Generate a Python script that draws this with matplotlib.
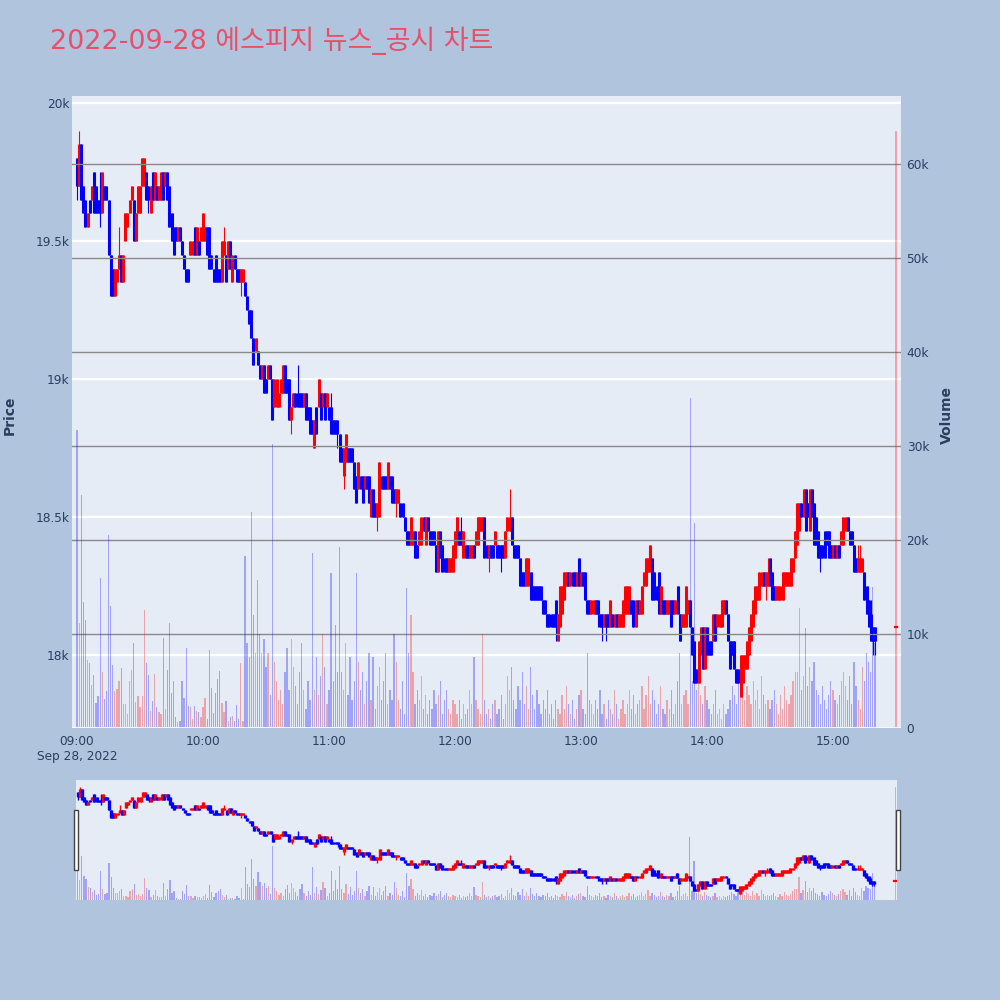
import matplotlib
matplotlib.use("Agg")
import matplotlib.pyplot as plt
from matplotlib.patches import Rectangle

plt.rcParams['font.family'] = ['DejaVu Sans', 'Noto Sans CJK KR']

TITLE = "2022-09-28 에스피지 뉴스_공시 차트"

# minutes after 09:00 (regular session 09:00-15:20, closing auction at 15:30)
minutes = list(range(381)) + [390]

opens = [
    19800, 19700, 19850, 19700, 19650, 19550, 19650, 19650, 19750, 19700,
    19650, 19650, 19600, 19700, 19700, 19650, 19450, 19400, 19300, 19350,
    19400, 19450, 19350, 19500, 19550, 19600, 19650, 19650, 19500, 19600,
    19600, 19700, 19700, 19750, 19700, 19600, 19750, 19650, 19700, 19650,
    19650, 19750, 19700, 19750, 19700, 19600, 19550, 19550, 19500, 19550,
    19500, 19450, 19400, 19400, 19450, 19450, 19550, 19450, 19500, 19500,
    19500, 19500, 19550, 19550, 19450, 19400, 19450, 19400, 19400, 19350,
    19450, 19450, 19400, 19500, 19350, 19450, 19400, 19400, 19350, 19350,
    19350, 19300, 19250, 19250, 19150, 19100, 19100, 19050, 19000, 19050,
    19000, 19000, 19050, 19000, 18900, 18900, 18900, 18950, 18950, 19050,
    19000, 19000, 18850, 18900, 18950, 18950, 18950, 18950, 18900, 18950,
    18900, 18900, 18850, 18750, 18900, 18900, 18950, 18900, 18950, 18900,
    18900, 18900, 18850, 18850, 18850, 18800, 18750, 18650, 18700, 18750,
    18750, 18750, 18700, 18650, 18600, 18650, 18650, 18600, 18650, 18650,
    18500, 18600, 18550, 18500, 18500, 18650, 18650, 18650, 18600, 18650,
    18650, 18600, 18550, 18550, 18550, 18550, 18500, 18450, 18450, 18400,
    18400, 18450, 18400, 18400, 18400, 18500, 18400, 18500, 18450, 18450,
    18450, 18400, 18300, 18450, 18400, 18350, 18350, 18300, 18300, 18300,
    18350, 18400, 18450, 18450, 18350, 18400, 18400, 18350, 18350, 18400,
    18400, 18400, 18450, 18450, 18500, 18400, 18350, 18400, 18400, 18400,
    18400, 18400, 18400, 18400, 18350, 18450, 18450, 18500, 18400, 18400,
    18400, 18350, 18300, 18300, 18250, 18250, 18300, 18250, 18250, 18250,
    18250, 18250, 18200, 18200, 18150, 18150, 18150, 18150, 18200, 18050,
    18100, 18150, 18200, 18250, 18300, 18250, 18300, 18300, 18250, 18350,
    18250, 18300, 18300, 18200, 18200, 18150, 18150, 18200, 18200, 18150,
    18150, 18100, 18150, 18150, 18100, 18150, 18100, 18150, 18100, 18100,
    18100, 18150, 18150, 18150, 18200, 18200, 18100, 18200, 18150, 18150,
    18250, 18250, 18300, 18300, 18350, 18300, 18250, 18300, 18150, 18200,
    18200, 18150, 18150, 18200, 18200, 18150, 18250, 18150, 18100, 18100,
    18100, 18150, 18200, 18100, 18050, 17950, 17900, 18000, 18100, 17950,
    18100, 18050, 18050, 18050, 18150, 18100, 18100, 18100, 18150, 18200,
    18150, 18050, 18050, 18050, 17950, 17950, 17850, 17900, 17950, 17950,
    18000, 18050, 18100, 18150, 18200, 18200, 18250, 18300, 18250, 18250,
    18350, 18300, 18250, 18200, 18200, 18200, 18200, 18250, 18250, 18250,
    18250, 18300, 18350, 18400, 18450, 18550, 18500, 18600, 18550, 18450,
    18600, 18550, 18500, 18450, 18400, 18400, 18450, 18450, 18450, 18400,
    18350, 18400, 18350, 18400, 18400, 18400, 18450, 18500, 18450, 18450,
    18400, 18350, 18300, 18300, 18300, 18300, 18250, 18200, 18150, 18100,
    18100,
    18100,
]

closes = [
    19700, 19850, 19650, 19600, 19550, 19600, 19600, 19700, 19600, 19600,
    19600, 19600, 19750, 19650, 19650, 19450, 19300, 19300, 19400, 19400,
    19450, 19350, 19450, 19600, 19600, 19650, 19700, 19500, 19600, 19700,
    19700, 19800, 19800, 19650, 19650, 19700, 19650, 19750, 19650, 19700,
    19750, 19650, 19750, 19650, 19550, 19500, 19450, 19500, 19550, 19500,
    19450, 19400, 19350, 19350, 19500, 19500, 19450, 19550, 19450, 19550,
    19600, 19550, 19450, 19400, 19400, 19350, 19350, 19350, 19350, 19500,
    19500, 19350, 19500, 19400, 19450, 19400, 19350, 19350, 19400, 19400,
    19300, 19250, 19200, 19150, 19050, 19150, 19050, 19000, 19050, 18950,
    18950, 19050, 19000, 18850, 19000, 19000, 18950, 19000, 19050, 18950,
    18950, 18850, 18900, 18950, 18900, 18900, 18900, 18900, 18950, 18850,
    18850, 18800, 18800, 18850, 18800, 19000, 18850, 18950, 18850, 18950,
    18850, 18800, 18800, 18800, 18800, 18700, 18700, 18750, 18800, 18700,
    18700, 18700, 18600, 18550, 18700, 18600, 18550, 18650, 18600, 18550,
    18600, 18500, 18500, 18550, 18700, 18600, 18600, 18600, 18700, 18600,
    18550, 18550, 18600, 18600, 18500, 18500, 18450, 18400, 18400, 18500,
    18450, 18350, 18350, 18450, 18500, 18450, 18500, 18450, 18400, 18400,
    18400, 18300, 18450, 18350, 18300, 18300, 18300, 18350, 18350, 18400,
    18450, 18500, 18400, 18400, 18450, 18350, 18350, 18400, 18400, 18350,
    18450, 18500, 18500, 18500, 18350, 18350, 18400, 18350, 18350, 18450,
    18350, 18350, 18350, 18350, 18450, 18500, 18500, 18400, 18350, 18350,
    18350, 18250, 18250, 18250, 18350, 18350, 18200, 18200, 18200, 18200,
    18200, 18200, 18150, 18150, 18100, 18100, 18100, 18100, 18100, 18150,
    18250, 18250, 18300, 18300, 18250, 18300, 18250, 18250, 18300, 18250,
    18300, 18250, 18200, 18150, 18150, 18200, 18200, 18150, 18150, 18100,
    18100, 18150, 18100, 18100, 18200, 18100, 18150, 18100, 18150, 18150,
    18200, 18250, 18250, 18250, 18150, 18100, 18200, 18150, 18200, 18250,
    18300, 18350, 18350, 18400, 18200, 18200, 18200, 18150, 18250, 18150,
    18150, 18200, 18200, 18100, 18150, 18200, 18150, 18050, 18150, 18150,
    18250, 18200, 18100, 18000, 17900, 17900, 18050, 18100, 17950, 18100,
    18000, 18000, 18000, 18150, 18050, 18150, 18150, 18200, 18200, 18150,
    18050, 17950, 18000, 17950, 17900, 17900, 18000, 18000, 18000, 18050,
    18100, 18150, 18200, 18250, 18250, 18300, 18300, 18250, 18300, 18300,
    18250, 18200, 18200, 18250, 18250, 18250, 18300, 18300, 18300, 18300,
    18350, 18350, 18450, 18550, 18550, 18500, 18600, 18450, 18500, 18600,
    18500, 18400, 18400, 18350, 18350, 18350, 18350, 18400, 18350, 18350,
    18400, 18350, 18400, 18350, 18450, 18500, 18500, 18450, 18400, 18400,
    18300, 18300, 18350, 18350, 18350, 18200, 18150, 18100, 18050, 18050,
    18050,
    18100,
]

# shadows that reach beyond the body (minute -> price)
wick_hi = {1: 19900, 11: 19750, 20: 19550, 70: 19550, 105: 19050, 121: 18950,
           183: 18500, 206: 18600, 329: 18350, 372: 18400, 373: 18400, 378: 18200}
wick_lo = {0: 19650, 11: 19550, 34: 19600, 78: 19300, 102: 18800, 124: 18750,
           127: 18600, 143: 18450, 152: 18500, 196: 18300, 202: 18300, 228: 18050,
           248: 18100, 250: 18050, 252: 18050, 328: 18200, 354: 18300, 379: 18000,
           380: 18000}

# traded volume, thousands of shares
volume_k = [
    31.7, 11.2, 24.8, 13.4, 11.5, 7.2, 6.9, 4.6, 5.6, 2.7,
    3.4, 16.0, 6.0, 3.1, 3.9, 20.5, 13.0, 6.7, 3.9, 4.1,
    5.0, 6.4, 2.5, 2.5, 1.5, 5.0, 6.2, 9.0, 2.8, 3.4,
    2.2, 3.4, 12.5, 6.9, 5.6, 1.8, 2.9, 5.7, 2.2, 1.7,
    1.5, 9.6, 2.0, 6.2, 11.2, 3.7, 5.0, 1.2, 0.6, 0.7,
    5.0, 3.2, 8.5, 2.3, 2.2, 1.0, 2.3, 1.8, 1.7, 1.2,
    2.2, 3.2, 1.0, 8.3, 4.3, 1.6, 3.7, 5.2, 6.1, 2.7,
    1.7, 2.9, 0.7, 1.2, 1.3, 0.7, 2.4, 1.0, 6.9, 0.7,
    18.3, 9.0, 7.5, 23.0, 12.0, 8.0, 15.7, 10.0, 8.0, 9.5,
    6.5, 8.0, 3.5, 30.2, 7.0, 5.0, 3.0, 4.0, 2.5, 6.0,
    8.5, 4.0, 9.5, 6.5, 4.5, 2.5, 6.0, 9.0, 4.0, 2.0,
    5.0, 3.0, 18.6, 4.0, 7.5, 3.5, 5.5, 10.0, 6.5, 2.5,
    4.0, 16.5, 5.0, 11.0, 6.0, 19.3, 6.0, 4.0, 9.0, 3.5,
    7.5, 3.0, 5.0, 16.5, 7.0, 4.0, 6.0, 2.5, 5.0, 8.0,
    3.0, 7.5, 2.0, 4.5, 6.5, 3.0, 5.0, 8.0, 2.5, 4.0,
    3.0, 10.0, 7.0, 3.0, 2.0, 5.0, 1.5, 14.9, 8.0, 12.0,
    6.0, 2.5, 4.0, 3.0, 5.5, 2.0, 3.5, 1.5, 3.0, 2.0,
    4.0, 2.5, 3.5, 5.0, 1.5, 3.0, 4.0, 2.0, 1.5, 3.0,
    2.5, 1.5, 3.0, 1.0, 2.5, 1.5, 2.0, 4.0, 2.5, 7.5,
    3.0, 2.0, 1.5, 10.0, 3.0, 1.5, 2.0, 1.0, 2.5, 3.0,
    1.5, 2.0, 3.5, 1.0, 2.5, 5.5, 4.0, 6.5, 3.0, 2.0,
    4.5, 3.0, 6.0, 2.5, 4.5, 2.0, 6.5, 3.5, 2.0, 4.0,
    2.5, 1.5, 3.0, 2.0, 4.0, 1.5, 2.5, 1.0, 3.0, 2.0,
    1.5, 3.5, 2.0, 4.5, 2.5, 1.5, 3.0, 1.0, 2.0, 3.5,
    4.0, 2.0, 1.5, 8.0, 3.0, 2.5, 1.5, 3.0, 2.0, 4.0,
    1.5, 2.5, 1.0, 3.0, 2.0, 1.5, 4.0, 2.5, 1.0, 2.0,
    3.0, 1.5, 2.5, 4.0, 2.0, 3.5, 1.5, 2.5, 3.0, 4.5,
    2.0, 3.5, 5.5, 2.5, 4.0, 3.0, 1.5, 2.5, 4.5, 2.0,
    1.5, 3.0, 2.0, 4.0, 1.5, 2.5, 5.0, 8.0, 2.5, 3.5,
    4.0, 2.5, 35.1, 5.0, 21.8, 4.0, 6.0, 3.5, 2.5, 4.5,
    3.0, 2.0, 1.5, 2.5, 4.0, 1.5, 2.0, 1.0, 2.5, 1.5,
    2.0, 3.0, 4.5, 3.5, 2.5, 6.0, 4.0, 5.5, 3.0, 4.5,
    3.5, 2.5, 5.0, 3.0, 4.0, 2.0, 5.5, 3.5, 2.5, 3.0,
    2.0, 3.0, 4.0, 2.5, 1.5, 3.5, 2.0, 4.5, 3.0, 2.5,
    3.5, 5.0, 6.0, 6.0, 12.8, 4.0, 5.5, 10.6, 4.5, 6.5,
    5.0, 7.0, 4.0, 3.5, 2.5, 4.5, 3.0, 2.0, 3.5, 5.0,
    4.0, 3.0, 2.5, 3.5, 5.0, 6.0, 4.5, 3.0, 5.5, 2.5,
    7.0, 4.5, 3.0, 2.0, 6.5, 5.0, 8.0, 7.0, 6.0, 15.0,
    9.0,
    63.5,
]

price_ticks = [18000, 18500, 19000, 19500, 20000]
price_labels = ["18k", "18.5k", "19k", "19.5k", "20k"]
vol_ticks = [0, 10000, 20000, 30000, 40000, 50000, 60000]
vol_labels = ["0", "10k", "20k", "30k", "40k", "50k", "60k"]
time_ticks = [0, 60, 120, 180, 240, 300, 360]
time_labels = ["09:00\nSep 28, 2022", "10:00", "11:00", "12:00", "13:00", "14:00", "15:00"]

UP, DOWN = "#ff0000", "#0000ff"
BG, PLOT_BG, TXT = "#b0c4de", "#e5ecf6", "#2a3f5f"
PRICE_LIM = (17736, 20025)
VOL_LIM = (0, 67234)

colors = [UP if c >= o else DOWN for o, c in zip(opens, closes)]
highs = [max(o, c, wick_hi.get(m, 0)) for m, o, c in zip(minutes, opens, closes)]
lows = [min(o, c, wick_lo.get(m, 1e9)) for m, o, c in zip(minutes, opens, closes)]
body_lo = [min(o, c) for o, c in zip(opens, closes)]
body_hi = [max(o, c) for o, c in zip(opens, closes)]
volumes = [v * 1000 for v in volume_k]


def draw_candles(ax, body_lw, wick_lw):
    ax.vlines(minutes, lows, highs, colors=colors, linewidth=wick_lw, zorder=3)
    ax.vlines(minutes, body_lo, body_hi, colors=colors, linewidth=body_lw, zorder=3)
    flat = [(m, o, col) for m, o, c, col in zip(minutes, opens, closes, colors) if o == c]
    for m, o, col in flat:
        ax.plot([m - 0.6, m + 0.6], [o, o], color=col, linewidth=1.6, zorder=3)


fig = plt.figure(figsize=(10, 10), dpi=100, facecolor=BG)

# ── main panel ──────────────────────────────────────────────────────────────
ax = fig.add_axes([0.072, 0.272, 0.829, 0.632])
ax.set_facecolor(PLOT_BG)
draw_candles(ax, 2.2, 0.8)
ax.set_xlim(-2.4, 392.4)
ax.set_ylim(*PRICE_LIM)
ax.set_yticks(price_ticks)
ax.set_yticklabels(price_labels)
ax.set_xticks(time_ticks)
ax.set_xticklabels(time_labels)
ax.yaxis.grid(True, color="white", linewidth=1.6)
ax.set_axisbelow(True)
ax.tick_params(axis="y", length=0, pad=2, labelsize=8.7, labelcolor=TXT)
ax.tick_params(axis="x", length=0, pad=5, labelsize=8.7, labelcolor=TXT)
for s in ax.spines.values():
    s.set_visible(False)

ax2 = ax.twinx()
vol_colors = [UP if c >= o else DOWN for o, c in zip(opens, closes)]
ax2.bar(minutes, volumes, width=0.6, color=vol_colors, alpha=0.3, linewidth=0, zorder=2)
ax2.set_ylim(*VOL_LIM)
ax2.set_yticks(vol_ticks)
ax2.set_yticklabels(vol_labels)
ax2.yaxis.grid(True, color="#8a8a8a", linewidth=1.0)
ax2.axhline(0, color="white", linewidth=2)
ax2.tick_params(axis="y", length=0, pad=4, labelsize=8.7, labelcolor=TXT)
for s in ax2.spines.values():
    s.set_visible(False)

fig.text(0.010, 0.585, "Price", rotation=90, fontsize=10, fontweight="bold",
         color=TXT, ha="center", va="center")
fig.text(0.947, 0.585, "Volume", rotation=90, fontsize=10, fontweight="bold",
         color=TXT, ha="center", va="center")
fig.text(0.05, 0.959, TITLE, fontsize=19.4, color="#e8506a", ha="left", va="center")

# ── range slider ────────────────────────────────────────────────────────────
sax = fig.add_axes([0.076, 0.100, 0.821, 0.120])
sax.set_facecolor(PLOT_BG)
draw_candles(sax, 2.4, 1.0)
sax.set_xlim(-0.8, 390.8)
sax.set_ylim(*PRICE_LIM)
sax.set_xticks([])
sax.set_yticks([])
for s in sax.spines.values():
    s.set_visible(False)
sax2 = sax.twinx()
sax2.bar(minutes, volumes, width=0.6, color=vol_colors, alpha=0.3, linewidth=0)
sax2.set_ylim(*VOL_LIM)
sax2.set_yticks([])
for s in sax2.spines.values():
    s.set_visible(False)

for hx in (0.0735, 0.8955):
    fig.patches.append(Rectangle((hx, 0.130), 0.0045, 0.060, transform=fig.transFigure,
                                 facecolor="white", edgecolor="#444444", linewidth=1))

fig.savefig("out.png", dpi=100, facecolor=BG)
